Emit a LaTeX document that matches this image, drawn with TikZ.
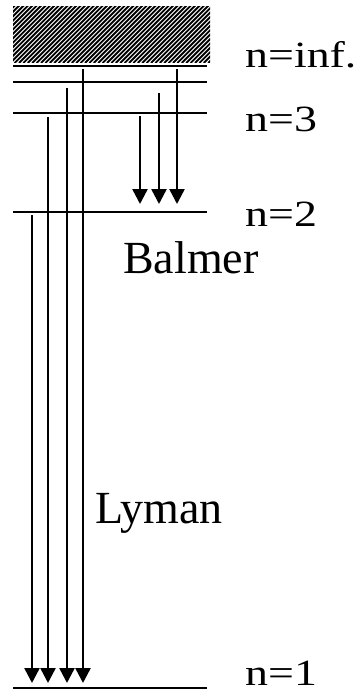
\documentclass[tikz,border=0pt]{standalone}
\usepackage{fontspec}
\setmainfont{Liberation Serif}
\usepackage{tikz}
\usetikzlibrary{arrows.meta,calc}

\begin{document}
\begin{tikzpicture}[x=1pt, y=-1pt,
  level/.style={line width=2.8pt},
  trans/.style={-{Triangle[length=15pt, width=15pt]}, line width=2.5pt},
  lvl/.style={anchor=base west, inner sep=0pt, font=\fontsize{37}{40}\selectfont},
  series/.style={anchor=base west, inner sep=0pt, font=\fontsize{46}{50}\selectfont},
]
\useasboundingbox (0,0) rectangle (363,693);

% continuum (hatched)
\begin{scope}
  \clip (13,7) rectangle (210,63);
  \foreach \k in {0,...,62}{ \draw[line width=1.9pt] (13+4.4*\k-60,63) -- ++(60,-60); }
\end{scope}

% levels
\foreach \nm/\y in {inf/66,four/82,three/113,two/212,one/688}{
  \coordinate (\nm a) at (13,\y);
  \coordinate (\nm b) at (207,\y);
  \draw[level] (\nm a) -- (\nm b);
}

\node[lvl] (Linf) at (245,67) {\scalebox{1.24}[1]{n=inf.}};
\node[lvl] (L3) at (245,131) {\scalebox{1.24}[1]{n=3}};
\node[lvl] (L2) at (245,226) {\scalebox{1.24}[1]{n=2}};
\node[lvl] (L1) at (245,685) {\scalebox{1.24}[1]{n=1}};

% Lyman series
\foreach \x/\t [count=\i] in {32/215,48/117,67/88,83/69}{
  \coordinate (ly\i) at (\x,\t);
  \coordinate (ly\i e) at (\x,683);
  \draw[trans] (ly\i) -- (ly\i e);
}
% Balmer series
\foreach \x/\t [count=\i] in {140/116,159/93,177/69}{
  \coordinate (ba\i) at (\x,\t);
  \coordinate (ba\i e) at (\x,204);
  \draw[trans] (ba\i) -- (ba\i e);
}

\node[series] (balmer) at (123,273) {Balmer};
\node[series] (lyman) at (95,523) {Lyman};
\end{tikzpicture}
\end{document}
